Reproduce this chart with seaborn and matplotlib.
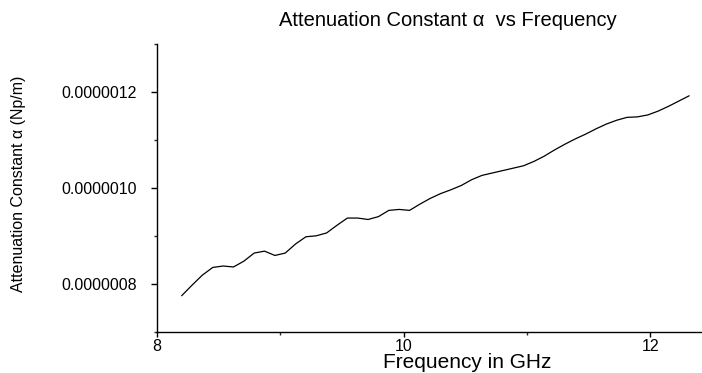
import matplotlib
matplotlib.use("Agg")
import matplotlib.pyplot as plt
import seaborn as sns
import pandas as pd
from matplotlib.ticker import FixedLocator, FuncFormatter

# Frequency (GHz)
freq = [8.200, 8.284, 8.368, 8.452, 8.536, 8.620, 8.704, 8.788, 8.872, 8.956,
        9.040, 9.124, 9.208, 9.292, 9.376, 9.460, 9.544, 9.628, 9.712, 9.796,
        9.880, 9.964, 10.048, 10.132, 10.216, 10.300, 10.384, 10.468, 10.552, 10.636,
        10.720, 10.804, 10.888, 10.972, 11.056, 11.140, 11.224, 11.308, 11.392, 11.476,
        11.560, 11.644, 11.728, 11.812, 11.896, 11.980, 12.064, 12.148, 12.232, 12.316]
# Attenuation constant (x1e-6 Np/m)
alpha_micro = [0.775, 0.797, 0.818, 0.834, 0.837, 0.835, 0.847, 0.864, 0.868, 0.859,
               0.864, 0.883, 0.898, 0.900, 0.906, 0.922, 0.937, 0.937, 0.934, 0.940,
               0.953, 0.955, 0.953, 0.966, 0.978, 0.988, 0.996, 1.005, 1.017, 1.026,
               1.031, 1.036, 1.041, 1.046, 1.055, 1.066, 1.079, 1.091, 1.102, 1.112,
               1.123, 1.133, 1.141, 1.147, 1.148, 1.152, 1.160, 1.170, 1.181, 1.192]
alpha = [v * 1e-6 for v in alpha_micro]

x_major = [8, 10, 12]
x_minor = [9, 11, 13]
y_major = [0.8e-6, 1.0e-6, 1.2e-6]
y_minor = [0.7e-6, 0.9e-6, 1.1e-6, 1.3e-6]

sns.set_style("ticks")
plt.rcParams['font.family'] = ['Liberation Sans', 'DejaVu Sans']
plt.rcParams['text.color'] = 'black'

df = pd.DataFrame({"Frequency": freq, "Alpha": alpha})

fig = plt.figure(figsize=(7.02, 3.73), dpi=100)
ax = fig.add_axes([157/702, 1 - 331.7/373, 616.5/702, (331.7 - 44)/373])

sns.lineplot(data=df, x="Frequency", y="Alpha", ax=ax, color="black", linewidth=0.9)

ax.set_xlim(8, 13)
ax.set_ylim(0.7e-6, 1.3e-6)
ax.xaxis.set_major_locator(FixedLocator(x_major))
ax.xaxis.set_minor_locator(FixedLocator(x_minor))
ax.yaxis.set_major_locator(FixedLocator(y_major))
ax.yaxis.set_minor_locator(FixedLocator(y_minor))
ax.xaxis.set_major_formatter(FuncFormatter(lambda v, p: f"{v:g}"))
ax.yaxis.set_major_formatter(FuncFormatter(lambda v, p: f"{v:.7f}"))

for s in ["top", "right"]:
    ax.spines[s].set_visible(False)
for s in ["left", "bottom"]:
    ax.spines[s].set_linewidth(1.0)
    ax.spines[s].set_color("black")

ax.tick_params(axis="x", which="major", length=3.6, width=1.0, pad=2, labelsize=11.5,
               colors="black")
ax.tick_params(axis="x", which="minor", length=2.0, width=1.0)
ax.tick_params(axis="y", which="major", length=4.3, width=1.0, pad=10, labelsize=11.5,
               colors="black")
ax.tick_params(axis="y", which="minor", length=2.5, width=1.0)

ax.set_xlabel("")
ax.set_ylabel("")
fig.text(467/702, 1 - 368/373, "Frequency in GHz", ha="center", va="baseline",
         fontsize=15, color="black")
fig.text(19/702, 1 - 184/373, "Attenuation Constant α (Np/m)", rotation=90,
         ha="center", va="center", fontsize=11.5, color="black")
fig.text(448/702, 1 - 20/373, "Attenuation Constant α  vs Frequency", ha="center",
         va="center", fontsize=14.5, color="black")

fig.savefig("out.png", dpi=100, facecolor="white")
